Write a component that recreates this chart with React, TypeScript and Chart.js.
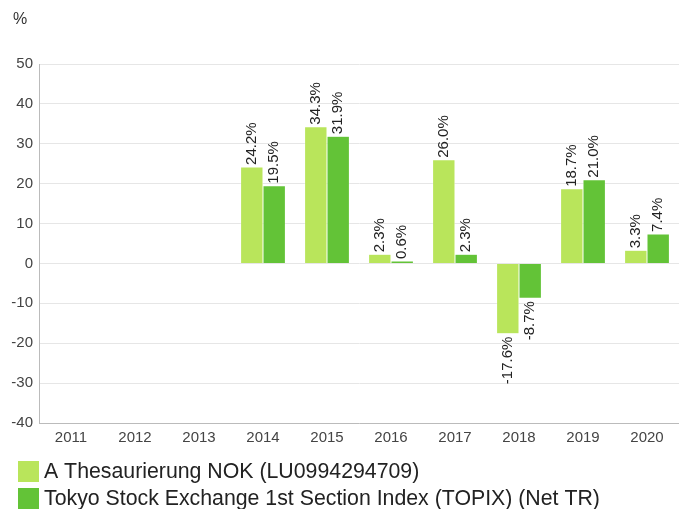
import React, { useEffect, useRef } from "react";
import { Chart, registerables } from "chart.js";

Chart.register(...registerables);

const categories = ["2011", "2012", "2013", "2014", "2015", "2016", "2017", "2018", "2019", "2020"];
const fundValues: (number | null)[] = [null, null, null, 24.2, 34.3, 2.3, 26.0, -17.6, 18.7, 3.3];
const indexValues: (number | null)[] = [null, null, null, 19.5, 31.9, 0.6, 2.3, -8.7, 21.0, 7.4];
const seriesNames = [
  "A Thesaurierung NOK (LU0994294709)",
  "Tokyo Stock Exchange 1st Section Index (TOPIX) (Net TR)",
];
const seriesColors = ["#b9e55b", "#63c337"];
const yTicks = [50, 40, 30, 20, 10, 0, -10, -20, -30, -40];

const FONT = "'Liberation Sans', Arial, sans-serif";

const labelPlugin = {
  id: "barLabels",
  afterDatasetsDraw(chart: any) {
    const ctx = chart.ctx;
    ctx.save();
    ctx.font = `15px ${FONT}`;
    ctx.fillStyle = "#222222";
    ctx.textBaseline = "middle";
    chart.data.datasets.forEach((ds: any, di: number) => {
      const meta = chart.getDatasetMeta(di);
      meta.data.forEach((el: any, i: number) => {
        const v = ds.data[i];
        if (v === null || v === undefined) return;
        const text = v.toFixed(1) + "%";
        ctx.save();
        if (v >= 0) {
          ctx.translate(el.x, el.y - 2);
          ctx.rotate(-Math.PI / 2);
          ctx.textAlign = "left";
        } else {
          ctx.translate(el.x, el.y + 3);
          ctx.rotate(-Math.PI / 2);
          ctx.textAlign = "right";
        }
        ctx.fillText(text, 0, 0);
        ctx.restore();
      });
    });
    ctx.restore();
  },
  afterDraw(chart: any) {
    const ctx = chart.ctx;
    ctx.save();
    ctx.fillStyle = "#333333";
    ctx.font = `16px ${FONT}`;
    ctx.textAlign = "left";
    ctx.textBaseline = "middle";
    ctx.fillText("%", 13, 20);
    ctx.font = `21.3px ${FONT}`;
    seriesNames.forEach((name, i) => {
      const y = 461 + i * 27;
      ctx.fillStyle = seriesColors[i];
      ctx.fillRect(18, y, 21, 21);
      ctx.fillStyle = "#222222";
      ctx.fillText(name, 44, y + 11);
    });
    ctx.restore();
  },
};

export default function App() {
  const canvasRef = useRef<HTMLCanvasElement | null>(null);
  useEffect(() => {
    if (!canvasRef.current) return;
    const chart = new Chart(canvasRef.current, {
      type: "bar",
      data: {
        labels: categories,
        datasets: [
          {
            label: seriesNames[0],
            data: fundValues,
            backgroundColor: seriesColors[0],
            borderColor: "#ffffff",
            borderWidth: 0.5,
            categoryPercentage: 0.7,
            barPercentage: 1.0,
          },
          {
            label: seriesNames[1],
            data: indexValues,
            backgroundColor: seriesColors[1],
            borderColor: "#ffffff",
            borderWidth: 0.5,
            categoryPercentage: 0.7,
            barPercentage: 1.0,
          },
        ],
      },
      options: {
        responsive: false,
        animation: false,
        maintainAspectRatio: false,
        layout: { padding: { top: 64, bottom: 58, left: 0, right: 0 } },
        plugins: {
          legend: { display: false },
          tooltip: { enabled: false },
        },
        scales: {
          x: {
            grid: { display: false, drawTicks: false },
            border: { display: true, color: "#bbbbbb" },
            ticks: {
              color: "#444444",
              font: { size: 15, family: FONT },
              padding: 6,
              maxRotation: 0,
              autoSkip: false,
            },
            afterFit(axis: any) {
              axis.height = 28;
            },
          },
          y: {
            min: -40,
            max: 50,
            afterBuildTicks(axis: any) {
              axis.ticks = yTicks.map((v) => ({ value: v }));
            },
            grid: { color: "#e6e6e6", drawTicks: false },
            border: { display: true, color: "#bbbbbb" },
            ticks: {
              color: "#444444",
              font: { size: 15, family: FONT },
              padding: 6,
            },
            afterFit(axis: any) {
              axis.width = 39;
            },
          },
        },
      },
      plugins: [labelPlugin],
    });
    return () => chart.destroy();
  }, []);
  return (
    <div style={{ position: "fixed", left: 0, top: 0, width: 679, height: 509, background: "#fff" }}>
      <canvas ref={canvasRef} width={679} height={509} style={{ width: 679, height: 509 }} />
    </div>
  );
}
